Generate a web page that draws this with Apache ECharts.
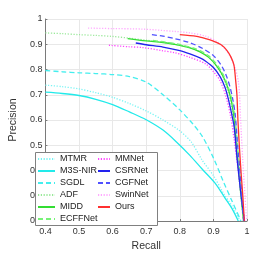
<!DOCTYPE html>
<html><head><meta charset="utf-8">
<script src="https://cdn.jsdelivr.net/npm/echarts@6/dist/echarts.min.js"></script>
<style>html,body{margin:0;padding:0;background:#fff}#c{width:274px;height:257px}</style>
</head><body><div id="c"></div>
<script>
const xTicks = ['0.4','0.5','0.6','0.7','0.8','0.9','1'];
const yTicks = ['0.2','0.3','0.4','0.5','0.6','0.7','0.8','0.9','1'];
const names = ['MTMR','M3S-NIR','SGDL','ADF','MIDD','ECFFNet','MMNet','CSRNet','CGFNet','SwinNet','Ours'];

const MTMR = [[0.4,0.738],[0.45,0.732],[0.5,0.723],[0.55,0.708],[0.6,0.69],[0.65,0.665],[0.7,0.636],[0.75,0.6],[0.8,0.557],[0.834,0.513],[0.867,0.44],[0.9,0.38],[0.93,0.31],[0.955,0.26],[0.98,0.2]];
const M3SNIR = [[0.4,0.71],[0.45,0.705],[0.5,0.697],[0.55,0.682],[0.6,0.661],[0.65,0.632],[0.7,0.601],[0.75,0.56],[0.79,0.513],[0.83,0.46],[0.867,0.405],[0.905,0.35],[0.935,0.29],[0.955,0.25],[0.974,0.2]];
const SGDL = [[0.4,0.796],[0.45,0.791],[0.5,0.787],[0.55,0.784],[0.6,0.78],[0.65,0.772],[0.7,0.75],[0.75,0.70],[0.8,0.64],[0.839,0.584],[0.867,0.535],[0.9,0.45],[0.93,0.355],[0.955,0.28],[0.982,0.2]];
const ADF = [[0.4,0.945],[0.45,0.942],[0.5,0.938],[0.55,0.935],[0.6,0.931],[0.65,0.924],[0.7,0.916],[0.75,0.908],[0.8,0.896],[0.85,0.877],[0.886,0.85],[0.91,0.812],[0.93,0.765],[0.945,0.705],[0.955,0.64],[0.963,0.56],[0.97,0.46],[0.977,0.36],[0.984,0.27],[0.989,0.2]];
const MIDD = [[0.645,0.922],[0.7,0.913],[0.75,0.907],[0.783,0.9],[0.83,0.886],[0.86,0.87],[0.886,0.848],[0.91,0.813],[0.93,0.77],[0.945,0.72],[0.955,0.665],[0.962,0.6],[0.968,0.5],[0.975,0.4],[0.982,0.3],[0.99,0.2]];
const ECFFNet = [[0.72,0.915],[0.75,0.91],[0.8,0.899],[0.85,0.881],[0.886,0.854],[0.91,0.82],[0.93,0.778],[0.945,0.728],[0.957,0.67],[0.965,0.6],[0.972,0.5],[0.978,0.4],[0.984,0.3],[0.99,0.2]];
const MMNet = [[0.589,0.896],[0.65,0.89],[0.689,0.887],[0.75,0.874],[0.783,0.867],[0.83,0.848],[0.877,0.822],[0.901,0.79],[0.92,0.755],[0.938,0.69],[0.952,0.61],[0.962,0.52],[0.972,0.42],[0.982,0.31],[0.993,0.2]];
const CSRNet = [[0.669,0.905],[0.7,0.898],[0.75,0.889],[0.8,0.875],[0.83,0.862],[0.86,0.846],[0.877,0.833],[0.9,0.808],[0.92,0.772],[0.935,0.728],[0.945,0.68],[0.955,0.62],[0.962,0.571],[0.971,0.44],[0.98,0.33],[0.992,0.2]];
const CGFNet = [[0.717,0.938],[0.75,0.932],[0.783,0.923],[0.83,0.906],[0.867,0.884],[0.9,0.855],[0.925,0.813],[0.94,0.77],[0.95,0.728],[0.958,0.68],[0.965,0.62],[0.972,0.5],[0.98,0.38],[0.99,0.2]];
const SwinNet = [[0.527,0.964],[0.6,0.962],[0.689,0.96],[0.783,0.951],[0.83,0.945],[0.877,0.932],[0.915,0.906],[0.943,0.867],[0.962,0.816],[0.975,0.745],[0.981,0.6],[0.987,0.45],[0.994,0.3],[0.999,0.2]];
const Ours = [[0.8,0.938],[0.85,0.931],[0.877,0.922],[0.9,0.912],[0.924,0.897],[0.94,0.876],[0.952,0.85],[0.961,0.818],[0.966,0.76],[0.97,0.7],[0.973,0.6],[0.978,0.48],[0.983,0.38],[0.988,0.29],[0.992,0.2]];

const seriesData = [MTMR, M3SNIR, SGDL, ADF, MIDD, ECFFNet, MMNet, CSRNet, CGFNet, SwinNet, Ours];
const colors = ['#77f4f4','#22eaea','#44eeee','#99e899','#33dd33','#77f277','#ff44ff','#2222ee','#5050ff','#ffa8ff','#ff3030'];
const DOT = [1.2,1.6], DASH = [5,3];
const types = [DOT,'solid',DASH,DOT,'solid',DASH,DOT,'solid',DASH,DOT,'solid'];

const series = names.map((n,i)=>({
  name:n, type:'line', data:seriesData[i], symbol:'none', smooth:0.3, z:2+i*0.01,
  lineStyle:{color:colors[i], width:1.3, type:types[i]}, itemStyle:{color:colors[i]}
}));

const FONT = 'Liberation Sans, Arial, sans-serif';
const legendBase = {orient:'vertical', padding:0, itemGap:0, itemHeight:12,
  itemStyle:{color:'rgba(0,0,0,0)', borderColor:'rgba(0,0,0,0)', borderWidth:0},
  textStyle:{fontFamily:FONT, fontSize:9, color:'#222', lineHeight:12}, selectedMode:false, z:5};

const chart = echarts.init(document.getElementById('c'), null, {renderer:'canvas'});
chart.setOption({
  animation:false,
  backgroundColor:'#fff',
  grid:{left:35, right:27, top:19, bottom:31, containLabel:false},
  xAxis:{type:'value', min:0.4, max:1, interval:0.1, name:'Recall', nameLocation:'middle', nameGap:20,
    nameTextStyle:{fontFamily:FONT, fontSize:10.5, color:'#333'},
    axisLine:{show:true, lineStyle:{color:'#7a7a7a', width:1}},
    axisTick:{show:true, inside:true, length:2, lineStyle:{color:'#7a7a7a'}},
    axisLabel:{formatter:v=>xTicks[Math.round((v-0.4)*10)], fontFamily:FONT, fontSize:9, color:'#333', margin:6},
    splitLine:{show:true, lineStyle:{color:'#e8e8e8', width:1}}},
  yAxis:{type:'value', min:0.2, max:1, interval:0.1, name:'Precision', nameLocation:'middle', nameGap:22, nameRotate:90,
    nameTextStyle:{fontFamily:FONT, fontSize:10.5, color:'#333'},
    axisLine:{show:true, lineStyle:{color:'#7a7a7a', width:1}},
    axisTick:{show:true, inside:true, length:2, lineStyle:{color:'#7a7a7a'}},
    axisLabel:{formatter:v=>yTicks[Math.round((v-0.2)*10)], fontFamily:FONT, fontSize:9, color:'#333', margin:3},
    splitLine:{show:true, lineStyle:{color:'#e8e8e8', width:1}}},
  graphic:[{type:'rect', z:4, shape:{x:35.5, y:152.5, width:122, height:73}, style:{fill:'#fff', stroke:'#808080', lineWidth:1}}],
  legend:[
    Object.assign({}, legendBase, {left:37, top:153, itemWidth:17, data:names.slice(0,6)}),
    Object.assign({}, legendBase, {left:97, top:153, itemWidth:12, data:names.slice(6)})
  ],
  series: series
});
</script></body></html>
